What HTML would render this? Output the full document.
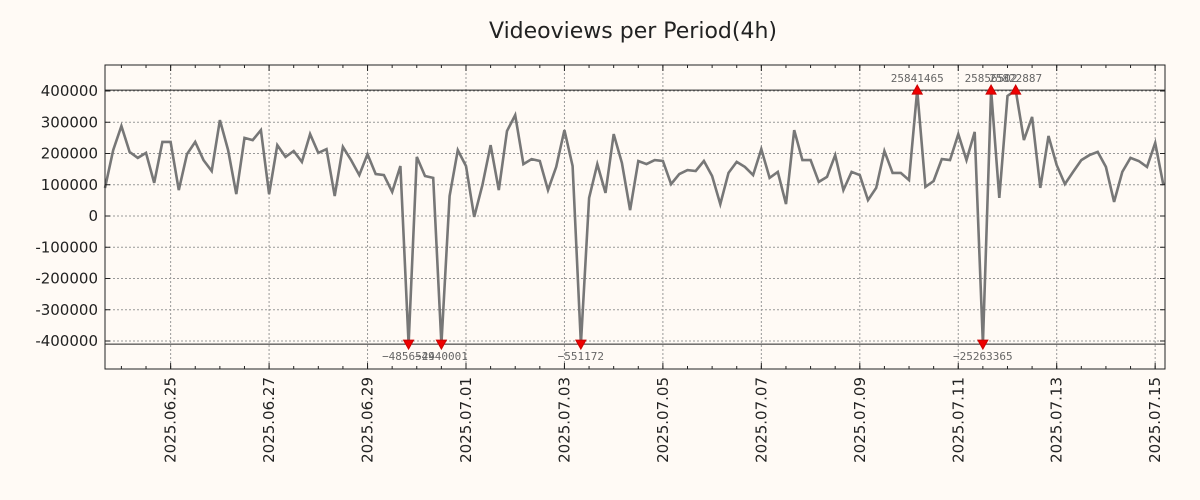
<!DOCTYPE html>
<html><head><meta charset="utf-8"><style>
html,body{margin:0;padding:0;background:#fffaf5;}
svg{display:block;font-family:"DejaVu Sans","Liberation Sans",sans-serif;}
</style></head><body>
<svg id="chart" width="1200" height="500" viewBox="0 0 1200 500" xmlns="http://www.w3.org/2000/svg">
<rect width="1200" height="500" fill="#fffaf5"/>
<text x="633" y="38" text-anchor="middle" font-size="22" fill="#222">Videoviews per Period(4h)</text>
<g id="grid"></g><g id="series"></g><g id="ann"></g><g id="axes"></g>
</svg>
<script>
const startDay = -1.3333; // days relative to 2025.06.25 00:00
const stepDay = 1/6;
const views = [89600,211000,288000,205000,186000,202000,106000,237000,237000,83000,
198000,237000,179000,144000,307000,211000,70000,250000,243000,275000,
70000,227000,189000,208000,173000,262000,202000,214000,64000,221000,
179000,131000,198000,134000,131000,77000,160000,-4856524,189000,128000,
122000,-4940001,64000,211000,160000,-3000,99000,227000,83000,272000,
323000,166000,182000,176000,83000,157000,275000,160000,-551172,58000,
166000,74000,262000,170000,19000,176000,166000,179000,176000,102000,
134000,147000,144000,176000,128000,38000,138000,173000,157000,131000,
214000,122000,141000,38000,275000,179000,179000,109000,125000,195000,
83000,141000,131000,51000,90000,208000,138000,138000,115000,25841465,
93000,112000,182000,179000,262000,179000,269000,-25263365,25856502,58000,
384000,25822887,243000,317000,90000,256000,163000,102000,141000,179000,
195000,205000,157000,45000,141000,186000,176000,157000,234000,99000];
const yTicks = [400000,300000,200000,100000,0,-100000,-200000,-300000,-400000];
const dateTicks = ["2025.06.25","2025.06.27","2025.06.29","2025.07.01","2025.07.03","2025.07.05","2025.07.07","2025.07.09","2025.07.11","2025.07.13","2025.07.15"];
const dateTickDays = [0,2,4,6,8,10,12,14,16,18,20];
const clipHigh = 403000, clipLow = -410000;

const L=105,R=1165,T=65,B=369;
const xMin=-1.3333,xMax=20.2,yMin=-490000,yMax=490000;
const X=d=>L+(d-xMin)/(xMax-xMin)*(R-L);
const Y=v=>216-(v)*125/400000;
const NS="http://www.w3.org/2000/svg";
function mk(tag,attrs,parent){const e=document.createElementNS(NS,tag);for(const k in attrs)e.setAttribute(k,attrs[k]);parent.appendChild(e);return e;}
const grid=document.getElementById('grid'),series=document.getElementById('series'),ann=document.getElementById('ann'),axes=document.getElementById('axes');

mk('rect',{x:L,y:T,width:R-L,height:B-T,fill:'#fffaf5'},grid);
yTicks.forEach(v=>{
  const g=mk('line',{x1:L,x2:R,y1:Y(v),y2:Y(v),stroke:'#999','stroke-dasharray':'2,2','stroke-width':1},grid);
  
  
  const t=mk('text',{x:98,y:Y(v)+5,'text-anchor':'end','font-size':15,fill:'#222'},axes);
  t.textContent=String(v);
  
  
  mk('line',{x1:L,x2:L+5,y1:Y(v),y2:Y(v),stroke:'#222'},axes);
  mk('line',{x1:R,x2:R-5,y1:Y(v),y2:Y(v),stroke:'#222'},axes);
});
for(let d=-1;d<=20.2;d+=0.5){
  mk('line',{x1:X(d),x2:X(d),y1:T,y2:T+3,stroke:'#222'},axes);
  mk('line',{x1:X(d),x2:X(d),y1:B,y2:B-3,stroke:'#222'},axes);
}
dateTicks.forEach((lab,i)=>{
  const x=X(dateTickDays[i]);
  const g=mk('line',{x1:x,x2:x,y1:T,y2:B,stroke:'#999','stroke-dasharray':'2,2','stroke-width':1},grid);
  
  
  mk('line',{x1:x,x2:x,y1:B,y2:B-6,stroke:'#222'},axes);
  mk('line',{x1:x,x2:x,y1:T,y2:T+6,stroke:'#222'},axes);
  const t=mk('text',{x:0,y:0,'text-anchor':'end','font-size':15,fill:'#222',transform:`translate(${x+5},${B+8}) rotate(-90)`},axes);
  t.textContent=lab;
  
  
});
const hl=mk('line',{x1:L,x2:R,y1:Y(clipHigh),y2:Y(clipHigh),stroke:'#222','stroke-width':1},grid);


const ll=mk('line',{x1:L,x2:R,y1:Y(clipLow),y2:Y(clipLow),stroke:'#222','stroke-width':1},grid);



const pts=views.map((v,i)=>{const c=Math.max(clipLow,Math.min(clipHigh,v));return [X(startDay+i*stepDay),Y(c)];});
const p=mk('polyline',{points:pts.map(q=>q[0].toFixed(1)+','+q[1].toFixed(1)).join(' '),fill:'none',stroke:'#777','stroke-width':2.6,'stroke-linejoin':'miter'},series);



views.forEach((v,i)=>{
  if(v>clipHigh||v<clipLow){
    const x=pts[i][0],y=pts[i][1],up=v>clipHigh;
    const m=mk('polygon',{points:up?`${x-5},${y+4} ${x+5},${y+4} ${x},${y-5}`:`${x-5},${y-4} ${x+5},${y-4} ${x},${y+5}`,fill:'#e00',stroke:'#c00'},ann);
    
    
    const t=mk('text',{x:x,y:up?y-8:y+16,'text-anchor':'middle','font-size':11,'font-family':'DejaVu Sans Mono, Liberation Mono, monospace',fill:'#666'},ann);
    t.textContent=String(v).replace('-','\u2212');
    
    
  }
});
const fr=mk('rect',{x:L,y:T,width:R-L,height:B-T,fill:'none',stroke:'#222','stroke-width':1},axes);


</script>
</body></html>
